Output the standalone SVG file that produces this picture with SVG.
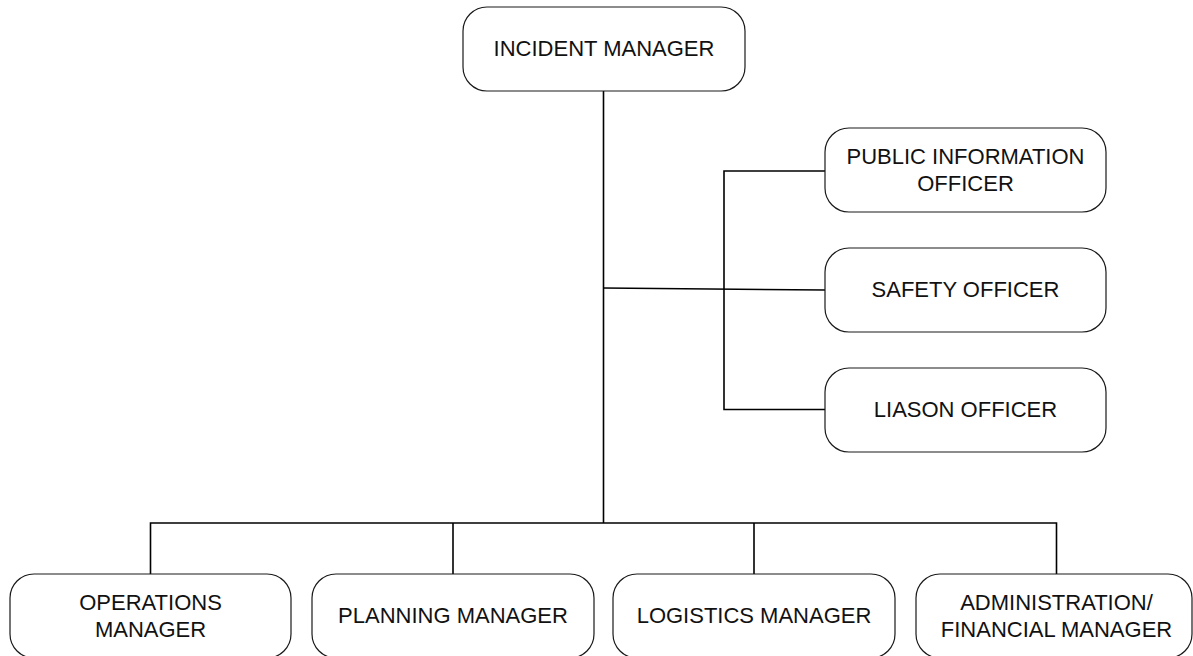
<svg xmlns="http://www.w3.org/2000/svg" width="1193" height="656" viewBox="0 0 1193 656">
  <style>
    .box { fill: #ffffff; stroke: #1a1a1a; stroke-width: 1.2; }
    .lbl { font-family: "Liberation Sans", Arial, sans-serif; font-size: 22px; fill: #111111; text-anchor: middle; }
    .wire { fill: none; stroke: #000000; stroke-width: 1.6; }
  </style>
  <rect width="1193" height="656" fill="#ffffff"/>

  <!-- reporting lines -->
  <g id="connectors">
    <path class="wire" d="M603.5 91 V523"/>
    <path class="wire" d="M150.5 574 V523 H1056.5 V574"/>
    <path class="wire" d="M453 523 V574"/>
    <path class="wire" d="M754 523 V574"/>
    <path class="wire" d="M603.5 288 L825 290"/>
    <path class="wire" d="M825 171 H724 V409.5 H825"/>
  </g>

  <g id="incident-manager">
    <rect class="box" x="463" y="7" width="282" height="84" rx="24"/>
    <text class="lbl" x="604" y="56">INCIDENT MANAGER</text>
  </g>

  <g id="public-information-officer">
    <rect class="box" x="825" y="128" width="281" height="84" rx="24"/>
    <text class="lbl" x="965.5" y="164">PUBLIC INFORMATION</text>
    <text class="lbl" x="965.5" y="191">OFFICER</text>
  </g>

  <g id="safety-officer">
    <rect class="box" x="825" y="248" width="281" height="84" rx="24"/>
    <text class="lbl" x="965.5" y="297">SAFETY OFFICER</text>
  </g>

  <g id="liason-officer">
    <rect class="box" x="825" y="368" width="281" height="84" rx="24"/>
    <text class="lbl" x="965.5" y="417">LIASON OFFICER</text>
  </g>

  <g id="operations-manager">
    <rect class="box" x="10" y="574" width="281" height="84" rx="24"/>
    <text class="lbl" x="150.5" y="610">OPERATIONS</text>
    <text class="lbl" x="150.5" y="637">MANAGER</text>
  </g>

  <g id="planning-manager">
    <rect class="box" x="312" y="574" width="282" height="84" rx="24"/>
    <text class="lbl" x="453" y="623">PLANNING MANAGER</text>
  </g>

  <g id="logistics-manager">
    <rect class="box" x="613" y="574" width="282" height="84" rx="24"/>
    <text class="lbl" x="754" y="623">LOGISTICS MANAGER</text>
  </g>

  <g id="administration-financial-manager">
    <rect class="box" x="916" y="574" width="276" height="84" rx="24"/>
    <text class="lbl" x="1056.5" y="610">ADMINISTRATION/</text>
    <text class="lbl" x="1056.5" y="637">FINANCIAL MANAGER</text>
  </g>
</svg>
